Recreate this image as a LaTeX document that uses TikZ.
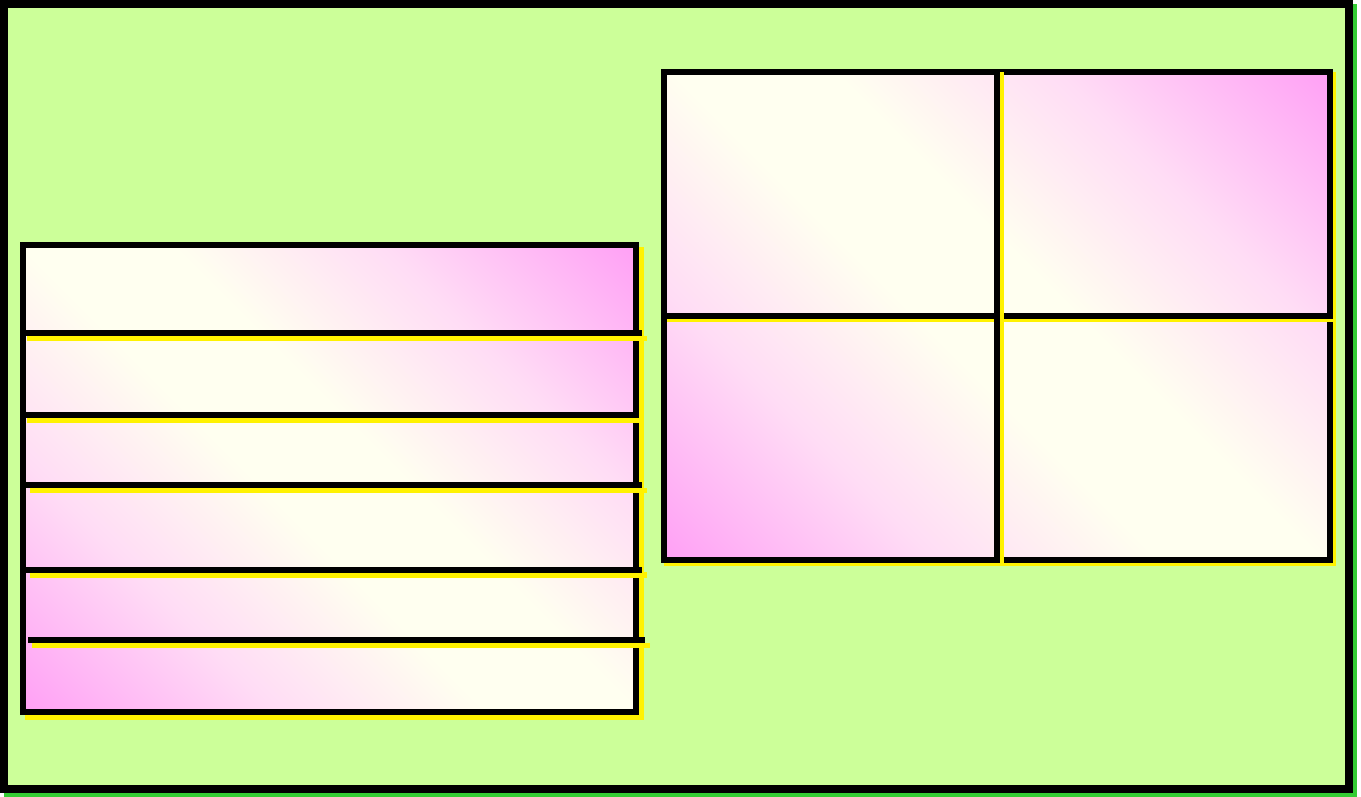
\documentclass[tikz,border=0pt]{standalone}
\usepackage{tikz}
\definecolor{boardgreen}{RGB}{204,255,153}
\definecolor{shadegreen}{RGB}{51,204,51}
\definecolor{padpink}{RGB}{255,160,245}
\definecolor{padblush}{RGB}{255,220,245}
\definecolor{padcream}{RGB}{255,255,240}
\pgfdeclarehorizontalshading{pinkband}{100bp}{color(0bp)=(padpink); color(14.6bp)=(padpink);
  color(31bp)=(padblush); color(45bp)=(padcream); color(55bp)=(padcream);
  color(69bp)=(padblush); color(85.4bp)=(padpink); color(100bp)=(padpink)}

\begin{document}
\begin{tikzpicture}[x=0.01cm, y=-0.01cm,
    frame/.style={draw=black, line width=1.7pt},
    glow/.style={draw=yellow, line width=1.5pt},
    panel/.style={frame, shading=pinkband, shading angle=45}
]
    \useasboundingbox (0,0) rectangle (1361,796);
    % Board with green shadow
    \draw[shadegreen, fill=shadegreen, line width=2.3pt] (8,8) rectangle (1353,793);
    \draw[black, fill=boardgreen, line width=2.3pt] (4,4) rectangle (1349,789);

    % Left panel: stack of strips
    \draw[glow, fill=yellow] (28,250) rectangle (641.5,717.5);
    \shade[panel] (23,245) rectangle (636,712);
    \foreach \y/\xa/\xb in {333/23/642, 415/23/639, 485/26/642, 569.5/26/642, 640/28/645} {
        \draw[glow] (\xa+4,\y+5.5) -- (\xb+5,\y+5.5);
        \draw[frame] (\xa,\y) -- (\xb,\y);
    }

    % Right panel: four cells
    \draw[glow, fill=yellow] (667,75) rectangle (1333,563);
    \shade[panel] (664,72) rectangle (1330,560);
    \draw[glow] (667,319) -- (1335,319);
    \draw[frame] (664,316) -- (1333,316);
    \draw[glow] (1001.5,72) -- (1001.5,566);
    \draw[frame] (997,69) -- (997,563);
\end{tikzpicture}
\end{document}
